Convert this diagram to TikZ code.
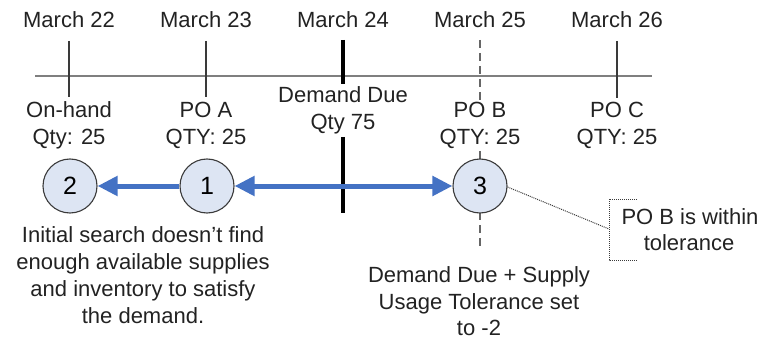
\documentclass[tikz,border=0pt]{standalone}
\usepackage{fontspec}
\setmainfont{Liberation Sans}
\usetikzlibrary{arrows.meta}
\definecolor{txt}{HTML}{222222}
\definecolor{axisgray}{HTML}{7F7F7F}
\definecolor{tickgray}{HTML}{3A3A3A}
\definecolor{dashgray}{HTML}{666666}
\definecolor{arrowblue}{HTML}{4472C4}
\definecolor{circfill}{HTML}{DDE5F3}
\begin{document}
\begin{tikzpicture}[x=1pt,y=-1pt,
  lbl/.style={font=\fontsize{22}{27}\selectfont, text=txt, inner sep=0pt, anchor=base},
  circ/.style={circle, draw=tickgray, line width=1.1pt, fill=circfill, minimum size=54pt, inner sep=0pt, font=\fontsize{25}{30}\selectfont, text=black},
  tick/.style={draw=tickgray, line width=1.3pt},
  duetick/.style={draw=black, line width=4pt},
  dashtick/.style={draw=dashgray, line width=1.3pt, dash pattern=on 8pt off 5pt},
  flow/.style={draw=arrowblue, line width=5pt, -{Triangle[length=20pt,width=19pt]}},
  flow2/.style={draw=arrowblue, line width=5pt, {Triangle[length=20pt,width=19pt]}-{Triangle[length=20pt,width=19pt]}},
  callout/.style={draw=tickgray, line width=1pt, densely dotted}
]
\useasboundingbox (0,0) rectangle (762,339);

% timeline
\coordinate (tl) at (35,76);
\coordinate (tr) at (652,76);
\draw[draw=axisgray, line width=2pt] (tl) -- (tr);

% date labels
\node[lbl] (m22) at (69,27.7) {March 22};
\node[lbl] (m23) at (206,27.7) {March 23};
\node[lbl] (m24) at (343,27.7) {March 24};
\node[lbl] (m25) at (480,27.7) {March 25};
\node[lbl] (m26) at (617,27.7) {March 26};

% ticks
\coordinate (t22a) at (69,41); \coordinate (t22b) at (69,97);
\coordinate (t23a) at (206,41); \coordinate (t23b) at (206,97);
\coordinate (t26a) at (617,41); \coordinate (t26b) at (617,98);
\draw[tick] (t22a) -- (t22b);
\draw[tick] (t23a) -- (t23b);
\draw[tick] (t26a) -- (t26b);

\coordinate (t24a) at (343,40); \coordinate (t24b) at (343,84);
\coordinate (t24c) at (343,137); \coordinate (t24d) at (343,213);
\draw[duetick] (t24a) -- (t24b);
\draw[duetick] (t24c) -- (t24d);

\coordinate (t25a) at (480,40); \coordinate (t25b) at (480,101);
\coordinate (t25c) at (480,151); \coordinate (t25d) at (480,159);
\coordinate (t25e) at (480,212); \coordinate (t25f) at (480,250);
\draw[dashtick] (t25a) -- (t25b);
\draw[dashtick] (t25c) -- (t25d);
\draw[dashtick] (t25e) -- (t25f);

% supply labels
\node[lbl] (oh1) at (69,118) {On-hand};
\node[lbl] (oh2) at (69,145) {Qty: 25};
\node[lbl] (pa1) at (206,118) {PO A};
\node[lbl] (pa2) at (206,145) {QTY: 25};
\node[lbl] (dd1) at (343,103) {Demand Due};
\node[lbl] (dd2) at (343,130) {Qty 75};
\node[lbl] (pb1) at (480,118) {PO B};
\node[lbl] (pb2) at (480,145) {QTY: 25};
\node[lbl] (pc1) at (617,118) {PO C};
\node[lbl] (pc2) at (617,145) {QTY: 25};

% circles
\node[circ] (c2) at (70,186) {2};
\node[circ] (c1) at (207,186) {1};
\node[circ] (c3) at (480,186) {3};

% arrows
\draw[flow] (c1) -- (c2);
\draw[flow2] (c1) -- (c3);

% explanation texts
\node[lbl] (e1) at (143,242) {Initial search doesn’t find};
\node[lbl] (e2) at (143,269) {enough available supplies};
\node[lbl] (e3) at (143,296) {and inventory to satisfy};
\node[lbl] (e4) at (143,323) {the demand.};

\node[lbl] (d1) at (479,282) {Demand Due + Supply};
\node[lbl] (d2) at (479,309) {Usage Tolerance set};
\node[lbl] (d3) at (479,335) {to -2};

% callout
\node[lbl] (k1) at (690,224) {PO B is within};
\node[lbl] (k2) at (689,250) {tolerance};
\coordinate (bt) at (637,199);
\coordinate (btl) at (609,199);
\coordinate (bm) at (609,229);
\coordinate (bbl) at (609,260);
\coordinate (bb) at (637,260);
\draw[callout] (bt) -- (btl) -- (bbl) -- (bb);
\draw[callout] (c3.east) ++(0,1) coordinate (c3e) (c3e) -- (bm);
\end{tikzpicture}
\end{document}
